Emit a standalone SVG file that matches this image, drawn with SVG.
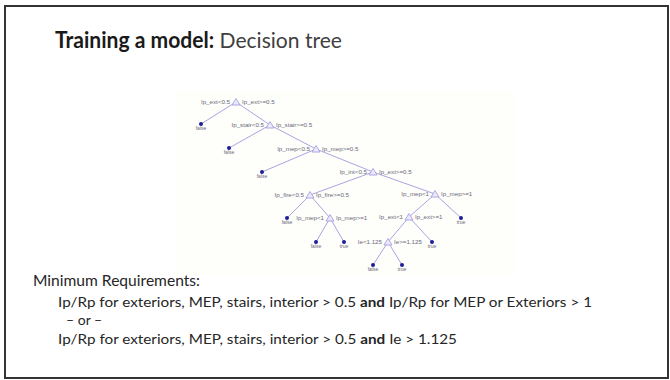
<svg xmlns="http://www.w3.org/2000/svg" width="670" height="380" viewBox="0 0 670 380">
<defs>
<style>
.frame{fill:#ffffff;stroke:#333333;stroke-width:2}
.tt{font-family:Lato,"Open Sans","Liberation Sans",sans-serif;font-size:22px;fill:#1a1a1a}
.body{font-family:Lato,"Open Sans","Liberation Sans",sans-serif;fill:#262626}
.lbl{font-family:"Liberation Sans",Arial,sans-serif;font-size:6.2px;fill:#6a6a7a}
.leaf{font-family:"Liberation Sans",Arial,sans-serif;font-size:5px;fill:#6a6a7a;text-anchor:middle}
.edge{stroke:#aaa4e2;stroke-width:1;fill:none}
.tri{fill:#ece9fb;stroke:#9d96e0;stroke-width:0.8}
.dot{fill:#1e1e96}
</style>
<polygon id="tri" points="0,-3.5 4,3 -4,3"/>
</defs>
<rect class="frame" x="5" y="6" width="663" height="372"/>
<text class="tt" x="55" y="48" textLength="287" lengthAdjust="spacingAndGlyphs"><tspan font-weight="bold">Training a model:</tspan><tspan fill="#404040"> Decision tree</tspan></text>
<rect x="175" y="90" width="340" height="185" fill="#fefefa"/>
<g id="connectors">
<line class="edge" x1="236" y1="102" x2="201" y2="124"/>
<line class="edge" x1="236" y1="102" x2="270" y2="125"/>
<line class="edge" x1="270" y1="125" x2="229" y2="148"/>
<line class="edge" x1="270" y1="125" x2="316" y2="149"/>
<line class="edge" x1="316" y1="149" x2="262" y2="172"/>
<line class="edge" x1="316" y1="149" x2="373" y2="172"/>
<line class="edge" x1="373" y1="172" x2="310" y2="195"/>
<line class="edge" x1="373" y1="172" x2="435" y2="194"/>
<line class="edge" x1="310" y1="195" x2="287" y2="218"/>
<line class="edge" x1="310" y1="195" x2="330" y2="218"/>
<line class="edge" x1="435" y1="194" x2="409" y2="217"/>
<line class="edge" x1="435" y1="194" x2="461" y2="218"/>
<line class="edge" x1="330" y1="218" x2="316" y2="242"/>
<line class="edge" x1="330" y1="218" x2="344" y2="242"/>
<line class="edge" x1="409" y1="217" x2="388" y2="242"/>
<line class="edge" x1="409" y1="217" x2="432" y2="242"/>
<line class="edge" x1="388" y1="242" x2="373" y2="265"/>
<line class="edge" x1="388" y1="242" x2="402" y2="265"/>
</g>
<g id="n1"><use href="#tri" class="tri" x="236" y="102"/><text class="lbl" x="230" y="104" text-anchor="end">Ip_ext&lt;0.5</text><text class="lbl" x="242" y="104">Ip_ext&gt;=0.5</text></g>
<g id="n2"><use href="#tri" class="tri" x="270" y="125"/><text class="lbl" x="264" y="127" text-anchor="end">Ip_stair&lt;0.5</text><text class="lbl" x="276" y="127">Ip_stair&gt;=0.5</text></g>
<g id="n3"><use href="#tri" class="tri" x="316" y="149"/><text class="lbl" x="310" y="151" text-anchor="end">Ip_mep&lt;0.5</text><text class="lbl" x="322" y="151">Ip_mep&gt;=0.5</text></g>
<g id="n4"><use href="#tri" class="tri" x="373" y="172"/><text class="lbl" x="367" y="174" text-anchor="end">Ip_int&lt;0.5</text><text class="lbl" x="379" y="174">Ip_ext&gt;=0.5</text></g>
<g id="n5"><use href="#tri" class="tri" x="310" y="195"/><text class="lbl" x="304" y="197" text-anchor="end">Ip_fire&lt;0.5</text><text class="lbl" x="316" y="197">Ip_fire&gt;=0.5</text></g>
<g id="n6"><use href="#tri" class="tri" x="435" y="194"/><text class="lbl" x="429" y="196" text-anchor="end">Ip_mep&lt;1</text><text class="lbl" x="441" y="196">Ip_mep&gt;=1</text></g>
<g id="n7"><use href="#tri" class="tri" x="330" y="218"/><text class="lbl" x="324" y="220" text-anchor="end">Ip_mep&lt;1</text><text class="lbl" x="336" y="220">Ip_mep&gt;=1</text></g>
<g id="n8"><use href="#tri" class="tri" x="409" y="217"/><text class="lbl" x="403" y="219" text-anchor="end">Ip_ext&lt;1</text><text class="lbl" x="415" y="219">Ip_ext&gt;=1</text></g>
<g id="n9"><use href="#tri" class="tri" x="388" y="242"/><text class="lbl" x="382" y="244" text-anchor="end">Ie&lt;1.125</text><text class="lbl" x="394" y="244">Ie&gt;=1.125</text></g>
<g id="f1"><circle class="dot" cx="201" cy="124" r="2"/><text class="leaf" x="201" y="130">false</text></g>
<g id="f2"><circle class="dot" cx="229" cy="148" r="2"/><text class="leaf" x="229" y="154">false</text></g>
<g id="f3"><circle class="dot" cx="262" cy="172" r="2"/><text class="leaf" x="262" y="178">false</text></g>
<g id="f4"><circle class="dot" cx="287" cy="218" r="2"/><text class="leaf" x="287" y="224">false</text></g>
<g id="t1"><circle class="dot" cx="461" cy="218" r="2"/><text class="leaf" x="461" y="224">true</text></g>
<g id="f5"><circle class="dot" cx="316" cy="242" r="2"/><text class="leaf" x="316" y="248">false</text></g>
<g id="t2"><circle class="dot" cx="344" cy="242" r="2"/><text class="leaf" x="344" y="248">true</text></g>
<g id="t3"><circle class="dot" cx="432" cy="242" r="2"/><text class="leaf" x="432" y="248">true</text></g>
<g id="f6"><circle class="dot" cx="373" cy="265" r="2"/><text class="leaf" x="373" y="271">false</text></g>
<g id="t4"><circle class="dot" cx="402" cy="265" r="2"/><text class="leaf" x="402" y="271">true</text></g>
<text class="body" x="33" y="286" font-size="15.5" textLength="167" lengthAdjust="spacingAndGlyphs">Minimum Requirements:</text>
<text class="body" x="58" y="307" font-size="14" textLength="534" lengthAdjust="spacingAndGlyphs">Ip/Rp for exteriors, MEP, stairs, interior &gt; 0.5 <tspan font-weight="bold">and</tspan> Ip/Rp for MEP or Exteriors &gt; 1</text>
<text class="body" x="66" y="325" font-size="14">– or –</text>
<text class="body" x="58" y="344" font-size="14" textLength="399" lengthAdjust="spacingAndGlyphs">Ip/Rp for exteriors, MEP, stairs, interior &gt; 0.5 <tspan font-weight="bold">and</tspan> Ie &gt; 1.125</text>
</svg>
